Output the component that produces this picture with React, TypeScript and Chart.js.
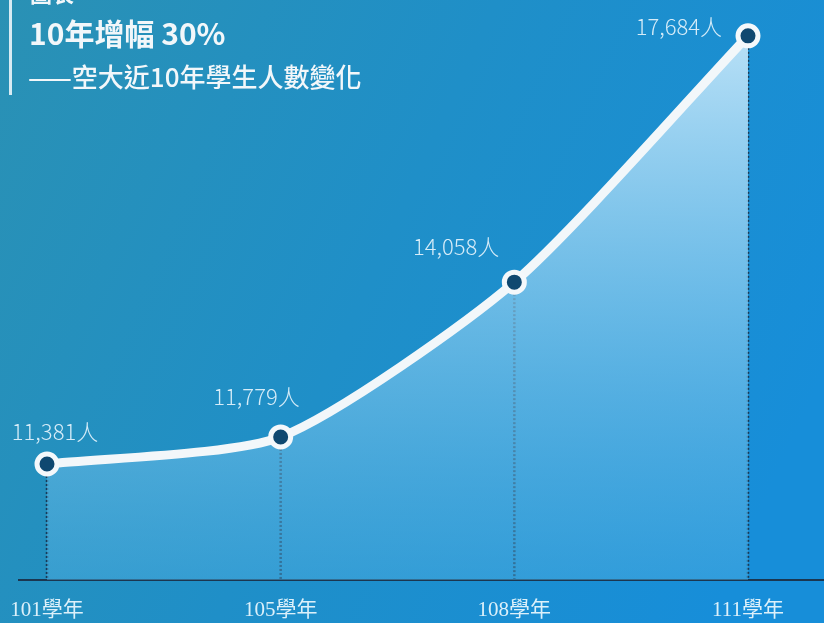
import React, { useEffect, useRef } from "react";
import { Chart, registerables } from "chart.js";

Chart.register(...registerables);

const categories = ["101學年", "105學年", "108學年", "111學年"];
const students = [11381, 11779, 14058, 17684];
const valueLabels = ["11,381人", "11,779人", "14,058人", "17,684人"];
const titleText = "10年增幅 30%";
const subtitleText = "——空大近10年學生人數變化";

const labelOffsets = [
  { dx: 8, dy: -32, align: "center" as CanvasTextAlign },
  { dx: 19, dy: -40, align: "right" as CanvasTextAlign },
  { dx: -15, dy: -36, align: "right" as CanvasTextAlign },
  { dx: -26, dy: -9, align: "right" as CanvasTextAlign },
];

const decorPlugin = {
  id: "decor",
  beforeDraw(chart: any) {
    const { ctx, width, height } = chart;
    ctx.save();
    const g = ctx.createLinearGradient(0, 0, width, height * 0.6);
    g.addColorStop(0, "#2a91b4");
    g.addColorStop(0.5, "#1f8fc8");
    g.addColorStop(1, "#178ed9");
    ctx.fillStyle = g;
    ctx.fillRect(0, 0, width, height);
    ctx.fillStyle = "rgba(235,245,250,0.9)";
    ctx.fillRect(9, 0, 3, 95);
    ctx.fillStyle = "#f2f7fa";
    ctx.font = "bold 22px 'Noto Sans CJK TC'";
    ctx.textBaseline = "alphabetic";
    ctx.textAlign = "left";
    ctx.fillText("圖表", 30, 2);
    ctx.font = "bold 30px 'Noto Sans CJK TC'";
    ctx.fillText(titleText, 29, 45);
    ctx.font = "500 26px 'Noto Sans CJK TC'";
    ctx.fillText(subtitleText, 28, 87);
    ctx.restore();
  },
  beforeDatasetsDraw(chart: any) {
    const { ctx, chartArea } = chart;
    const meta = chart.getDatasetMeta(0);
    ctx.save();
    ctx.strokeStyle = "#1b3650";
    ctx.lineWidth = 2;
    ctx.beginPath();
    ctx.moveTo(18, chartArea.bottom);
    ctx.lineTo(chart.width, chartArea.bottom);
    ctx.stroke();
    ctx.strokeStyle = "#173a58";
    ctx.lineWidth = 2.5;
    ctx.setLineDash([2, 2]);
    meta.data.forEach((pt: any) => {
      ctx.beginPath();
      ctx.moveTo(pt.x, pt.y);
      ctx.lineTo(pt.x, chartArea.bottom);
      ctx.stroke();
    });
    ctx.restore();
  },
  afterDatasetsDraw(chart: any) {
    const { ctx } = chart;
    const meta = chart.getDatasetMeta(0);
    ctx.save();
    ctx.fillStyle = "#d6ecf8";
    ctx.font = "300 22px 'Noto Sans CJK TC'";
    ctx.textBaseline = "middle";
    meta.data.forEach((pt: any, i: number) => {
      const o = labelOffsets[i];
      ctx.textAlign = o.align;
      ctx.fillText(valueLabels[i], pt.x + o.dx, pt.y + o.dy);
    });
    ctx.restore();
  },
};

export default function App() {
  const ref = useRef<HTMLCanvasElement>(null);
  useEffect(() => {
    document.body.style.margin = "0";
    const chart = new Chart(ref.current!, {
      type: "line",
      data: {
        labels: categories,
        datasets: [
          {
            data: students,
            borderColor: "#f2f7fa",
            borderWidth: 9,
            tension: 0.22,
            pointRadius: 10,
            pointHoverRadius: 10,
            pointBorderWidth: 5,
            pointBorderColor: "#f4f8fb",
            pointBackgroundColor: "#0f4870",
            fill: "start",
            backgroundColor: (c: any) => {
              const area = c.chart.chartArea;
              if (!area) return "rgba(170,215,242,0.6)";
              const g = c.chart.ctx.createLinearGradient(0, area.top, 0, area.bottom);
              g.addColorStop(0, "rgba(200,232,250,0.95)");
              g.addColorStop(0.5, "rgba(140,205,240,0.7)");
              g.addColorStop(1, "rgba(80,175,225,0.45)");
              return g;
            },
          },
        ],
      },
      options: {
        responsive: false,
        animation: false,
        layout: { padding: { left: 47, right: 76, top: 10, bottom: 0 } },
        plugins: { legend: { display: false }, tooltip: { enabled: false }, title: { display: false } },
        scales: {
          x: {
            offset: false,
            grid: { display: false, drawTicks: false },
            border: { display: false },
            ticks: {
              color: "#dcf0fa",
              padding: 18,
              font: { family: "'Liberation Serif', 'Noto Sans CJK TC'", size: 21 },
              maxRotation: 0,
              autoSkip: false,
            },
            afterFit: (scale: any) => {
              scale.height = 43;
              scale.paddingLeft = 0;
              scale.paddingRight = 0;
            },
          },
          y: { display: false, min: 9673, max: 17991 },
        },
      },
      plugins: [decorPlugin],
    });
    return () => chart.destroy();
  }, []);
  return <canvas ref={ref} width={824} height={623} style={{ display: "block" }} />;
}
